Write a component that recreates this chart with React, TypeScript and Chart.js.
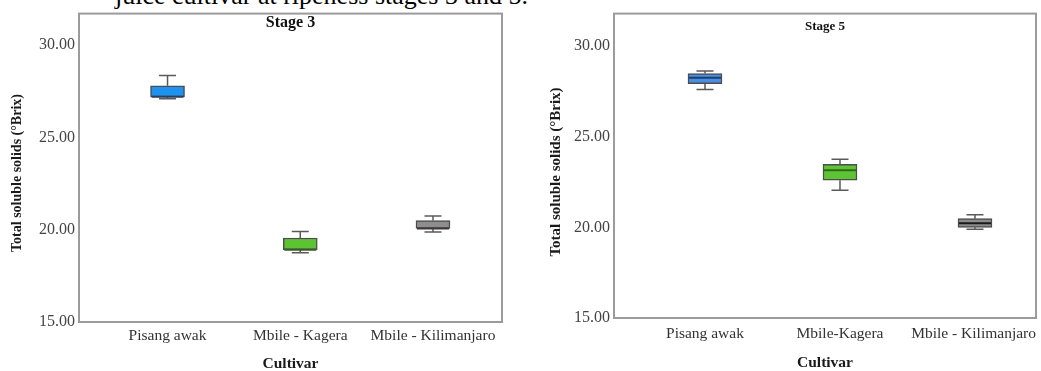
import React, { useEffect, useRef } from "react";
import { Chart, registerables } from "chart.js";

Chart.register(...registerables);

const FONT = "'Liberation Serif', 'Times New Roman', Times, serif";

// ---- data ----
const stage3Categories = ["Pisang awak", "Mbile - Kagera", "Mbile - Kilimanjaro"];
const stage3Min = [27.1, 18.75, 19.87];
const stage3Q1 = [27.2, 18.92, 20.07];
const stage3Median = [27.2, 18.92, 20.07];
const stage3Q3 = [27.8, 19.55, 20.5];
const stage3Max = [28.35, 19.9, 20.75];

const stage5Categories = ["Pisang awak", "Mbile-Kagera", "Mbile - Kilimanjaro"];
const stage5Min = [27.6, 22.05, 19.9];
const stage5Q1 = [27.93, 22.6, 20.0];
const stage5Median = [28.25, 23.15, 20.22];
const stage5Q3 = [28.48, 23.48, 20.48];
const stage5Max = [28.62, 23.75, 20.7];

const categoryPositions = [1, 2, 3];
const yTicks = [15, 20, 25, 30];

const stage3Colors = ["#1e92f0", "#5cc433", "#8f8d8d"];
const stage3MedianColors = ["#2a3f60", "#3a5a2a", "#3a3a3a"];
const stage5Colors = ["#4a8fe3", "#5dc434", "#8c8c8c"];
const stage5MedianColors = ["#1d3f70", "#2f6a1c", "#1a1a1a"];

type PanelProps = {
  width: number;
  height: number;
  left: number;
  categories: string[];
  mins: number[];
  q1s: number[];
  medians: number[];
  q3s: number[];
  maxs: number[];
  colors: string[];
  medianColors: string[];
  title: string;
  titleSize: number;
  titleBaseline: number;
  area: { left: number; right: number; top: number; bottom: number };
  xMin: number;
  xMax: number;
  yMax: number;
  yTitleX: number;
  yTitleY: number;
  yTitleSize: number;
  catBaseline: number;
  xTitleBaseline: number;
};

function BoxPanel(p: PanelProps) {
  const ref = useRef<HTMLCanvasElement | null>(null);
  useEffect(() => {
    const canvas = ref.current;
    if (!canvas) return;
    const boxPlugin = {
      id: "boxWhiskers",
      beforeDatasetsDraw(chart: any) {
        const ctx = chart.ctx;
        const xs = chart.scales.x;
        const ys = chart.scales.y;
        ctx.save();
        ctx.strokeStyle = "#5a5a5a";
        ctx.lineWidth = 1.5;
        const cap = 17;
        p.categories.forEach((_, i) => {
          const x = xs.getPixelForValue(categoryPositions[i]);
          const yMaxP = ys.getPixelForValue(p.maxs[i]);
          const yQ3 = ys.getPixelForValue(p.q3s[i]);
          const yQ1 = ys.getPixelForValue(p.q1s[i]);
          const yMinP = ys.getPixelForValue(p.mins[i]);
          ctx.beginPath();
          ctx.moveTo(x, yMaxP);
          ctx.lineTo(x, yQ3);
          ctx.moveTo(x, yQ1);
          ctx.lineTo(x, yMinP);
          ctx.moveTo(x - cap / 2, yMaxP);
          ctx.lineTo(x + cap / 2, yMaxP);
          ctx.moveTo(x - cap / 2, yMinP);
          ctx.lineTo(x + cap / 2, yMinP);
          ctx.stroke();
        });
        ctx.restore();
      },
      afterDatasetsDraw(chart: any) {
        const ctx = chart.ctx;
        const xs = chart.scales.x;
        const ys = chart.scales.y;
        const a = chart.chartArea;
        ctx.save();
        // medians
        p.categories.forEach((_, i) => {
          const x = xs.getPixelForValue(categoryPositions[i]);
          const y = ys.getPixelForValue(p.medians[i]);
          ctx.strokeStyle = p.medianColors[i];
          ctx.lineWidth = 2;
          ctx.beginPath();
          ctx.moveTo(x - 16, y);
          ctx.lineTo(x + 16, y);
          ctx.stroke();
        });
        // frame
        ctx.strokeStyle = "#9b9b9b";
        ctx.lineWidth = 2;
        ctx.strokeRect(a.left, a.top, a.right - a.left, a.bottom - a.top);
        // title inside plot
        ctx.fillStyle = "#111";
        ctx.textAlign = "center";
        ctx.textBaseline = "alphabetic";
        ctx.font = `bold ${p.titleSize}px ${FONT}`;
        ctx.fillText(p.title, (a.left + a.right) / 2, p.titleBaseline);
        // category labels
        ctx.font = `15.5px ${FONT}`;
        ctx.fillStyle = "#333";
        p.categories.forEach((c, i) => {
          const x = xs.getPixelForValue(categoryPositions[i]);
          const w = ctx.measureText(c).width;
          const cx = Math.min(x, a.right - w / 2);
          ctx.fillText(c, cx, p.catBaseline);
        });
        // x title
        ctx.font = `bold 15.5px ${FONT}`;
        ctx.fillStyle = "#1a1a1a";
        ctx.fillText("Cultivar", (a.left + a.right) / 2, p.xTitleBaseline);
        // y title
        ctx.translate(p.yTitleX, p.yTitleY);
        ctx.rotate(-Math.PI / 2);
        ctx.font = `bold ${p.yTitleSize}px ${FONT}`;
        ctx.fillText("Total soluble solids (°Brix)", 0, 0);
        ctx.restore();
      },
    };

    const chart = new Chart(canvas, {
      type: "bar",
      data: {
        datasets: [
          {
            data: p.categories.map((_, i) => ({
              x: categoryPositions[i],
              y: [p.q1s[i], p.q3s[i]],
            })) as any,
            backgroundColor: p.colors,
            borderColor: "#4d4d4d",
            borderWidth: 1.5,
            borderSkipped: false,
            barThickness: 34,
          },
        ],
      },
      options: {
        responsive: false,
        animation: false,
        devicePixelRatio: 1,
        layout: {
          padding: {
            left: 0,
            right: p.width - p.area.right,
            top: p.area.top,
            bottom: p.height - p.area.bottom,
          },
        },
        plugins: {
          legend: { display: false },
          tooltip: { enabled: false },
          title: { display: false },
        },
        scales: {
          x: {
            type: "linear",
            min: p.xMin,
            max: p.xMax,
            offset: false,
            display: false,
          },
          y: {
            type: "linear",
            min: 15,
            max: p.yMax,
            grid: { display: false, drawTicks: false },
            border: { display: false },
            afterBuildTicks: (s: any) => {
              s.ticks = yTicks.map((v) => ({ value: v }));
            },
            afterFit: (s: any) => {
              s.width = p.area.left;
            },
            ticks: {
              padding: 4,
              color: "#444",
              font: { family: FONT, size: 16 },
              callback: (v: any) => Number(v).toFixed(2),
            },
          },
        },
      } as any,
      plugins: [boxPlugin],
    });
    return () => chart.destroy();
  }, []);
  return (
    <canvas
      ref={ref}
      width={p.width}
      height={p.height}
      style={{ position: "absolute", left: p.left, top: 0, width: p.width, height: p.height }}
    />
  );
}

export default function App() {
  return (
    <div
      style={{
        position: "absolute",
        left: 0,
        top: 0,
        width: 1041,
        height: 371,
        overflow: "hidden",
        background: "#fff",
      }}
    >
      <div
        style={{
          position: "absolute",
          left: 115,
          top: -17,
          fontFamily: FONT,
          fontSize: 26,
          lineHeight: "26px",
          whiteSpace: "nowrap",
          color: "#000",
        }}
      >
        juice cultivar at ripeness stages 3 and 5.
      </div>
      <BoxPanel
        width={520}
        height={371}
        left={0}
        categories={stage3Categories}
        mins={stage3Min}
        q1s={stage3Q1}
        medians={stage3Median}
        q3s={stage3Q3}
        maxs={stage3Max}
        colors={stage3Colors}
        medianColors={stage3MedianColors}
        title="Stage 3"
        titleSize={16}
        titleBaseline={27}
        area={{ left: 79, right: 502, top: 10, bottom: 322 }}
        xMin={0.333}
        xMax={3.52}
        yMax={31.71}
        yTitleX={21}
        yTitleY={173}
        yTitleSize={14}
        catBaseline={340}
        xTitleBaseline={368}
      />
      <BoxPanel
        width={521}
        height={371}
        left={520}
        categories={stage5Categories}
        mins={stage5Min}
        q1s={stage5Q1}
        medians={stage5Median}
        q3s={stage5Q3}
        maxs={stage5Max}
        colors={stage5Colors}
        medianColors={stage5MedianColors}
        title="Stage 5"
        titleSize={13}
        titleBaseline={30}
        area={{ left: 94, right: 516, top: 9, bottom: 318 }}
        xMin={0.326}
        xMax={3.452}
        yMax={31.79}
        yTitleX={40}
        yTitleY={172}
        yTitleSize={15}
        catBaseline={338}
        xTitleBaseline={367}
      />
    </div>
  );
}
